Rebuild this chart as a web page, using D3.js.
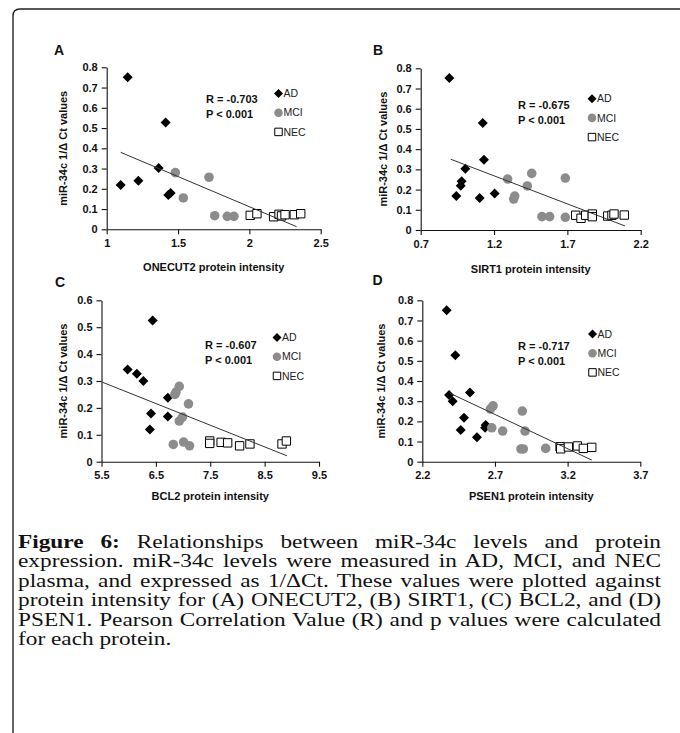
<!DOCTYPE html>
<html>
<head>
<meta charset="utf-8">
<script src="https://cdn.jsdelivr.net/npm/d3@7"></script>
<style>
  body { margin: 0; background: #fff; }
  #wrap { position: relative; width: 680px; height: 733px; overflow: hidden; }
  svg { position: absolute; left: 0; top: 0; }
  #capbox { position: absolute; left: 18px; top: 533px; transform-origin: 0 0; }
  .cap { font-family: "Liberation Serif", serif; font-size: 18px; line-height: 19.4px;
         white-space: nowrap; color: #111; }
  .cap.just { text-align: justify; text-align-last: justify; white-space: normal; }
  .cap b { font-weight: bold; }
</style>
</head>
<body>
<div id="wrap"></div>
<script>
// data: [protein intensity, miR-34c 1/dCt]
const panelA_AD = [[1.147,0.751],[1.413,0.527],[1.364,0.303],[1.098,0.219],[1.222,0.240],[1.432,0.169],[1.448,0.179]];
const panelA_MCI = [[1.481,0.280],[1.537,0.155],[1.717,0.257],[1.757,0.067],[1.845,0.064],[1.892,0.064]];
const panelA_NEC = [[2.006,0.069],[2.053,0.077],[2.170,0.062],[2.208,0.074],[2.225,0.066],[2.25,0.072],[2.315,0.072],[2.36,0.077]];
const panelA_trend = [[1.098,0.380],[2.331,0.013]];

const panelB_AD = [[0.895,0.752],[1.123,0.529],[1.131,0.348],[1.004,0.303],[0.979,0.241],[0.973,0.219],[0.943,0.168],[1.102,0.158],[1.204,0.180]];
const panelB_MCI = [[1.293,0.252],[1.457,0.280],[1.427,0.218],[1.341,0.168],[1.334,0.153],[1.686,0.257],[1.527,0.066],[1.579,0.066],[1.686,0.063]];
const panelB_NEC = [[1.757,0.073],[1.793,0.058],[1.825,0.073],[1.870,0.079],[1.870,0.066],[1.975,0.069],[2.004,0.073],[2.018,0.079],[2.088,0.074]];
const panelB_trend = [[0.905,0.350],[2.093,0.020]];

const panelC_AD = [[6.44,0.525],[5.98,0.343],[6.15,0.327],[6.27,0.300],[6.72,0.238],[6.41,0.179],[6.72,0.168],[6.39,0.120]];
const panelC_MCI = [[6.93,0.280],[6.87,0.259],[6.85,0.250],[7.10,0.215],[6.99,0.166],[6.93,0.151],[6.82,0.064],[7.01,0.073],[7.12,0.059]];
const panelC_NEC = [[7.49,0.077],[7.49,0.068],[7.70,0.072],[7.82,0.070],[8.04,0.059],[8.23,0.066],[8.82,0.066],[8.90,0.077]];
const panelC_trend = [[5.51,0.296],[8.91,0.022]];

const panelD_AD = [[2.368,0.751],[2.427,0.528],[2.384,0.330],[2.409,0.300],[2.528,0.343],[2.487,0.218],[2.464,0.157],[2.576,0.121],[2.636,0.182],[2.632,0.168]];
const panelD_MCI = [[2.687,0.277],[2.668,0.261],[2.678,0.168],[2.753,0.152],[2.888,0.251],[2.907,0.152],[2.879,0.063],[2.895,0.063],[3.049,0.066]];
const panelD_NEC = [[3.148,0.074],[3.152,0.064],[3.205,0.073],[3.267,0.078],[3.308,0.066],[3.366,0.071]];
const panelD_trend = [[2.391,0.339],[3.366,0.008]];

const groups = ["AD", "MCI", "NEC"];
const xTicksA = [1, 1.5, 2, 2.5];
const xTicksB = [0.7, 1.2, 1.7, 2.2];
const xTicksC = [5.5, 6.5, 7.5, 8.5, 9.5];
const xTicksD = [2.2, 2.7, 3.2, 3.7];
const yTicks8 = [0, 0.1, 0.2, 0.3, 0.4, 0.5, 0.6, 0.7, 0.8];
const yTicks6 = [0, 0.1, 0.2, 0.3, 0.4, 0.5, 0.6];
const xTitles = ["ONECUT2 protein intensity", "SIRT1 protein intensity", "BCL2 protein intensity", "PSEN1 protein intensity"];
const rValues = ["R = -0.703", "R = -0.675", "R = -0.607", "R = -0.717"];
const pValues = ["P < 0.001", "P < 0.001", "P < 0.001", "P < 0.001"];
const yTitle = "miR-34c 1/\u0394 Ct values";

const captionLines = [
  "Relationships between miR-34c levels and protein",
  "expression. miR-34c levels were measured in AD, MCI, and NEC",
  "plasma, and expressed as 1/\u0394Ct. These values were plotted against",
  "protein intensity for (A) ONECUT2, (B) SIRT1, (C) BCL2, and (D)",
  "PSEN1. Pearson Correlation Value (R) and p values were calculated",
  "for each protein."
];

// layout of each panel (pixels)
const panels = [
  { letter: "A", ad: panelA_AD, mci: panelA_MCI, nec: panelA_NEC, trend: panelA_trend, xTicks: xTicksA, yTicks: yTicks8,
    x0: 106.7, x1: 320.7, y0: 229.3, y1: 67.3, letterPos: [59, 50], yTitleX: 63, xTitleY: 267,
    rPos: [206, 99.5], legPos: [278.5, 93.5] },
  { letter: "B", ad: panelB_AD, mci: panelB_MCI, nec: panelB_NEC, trend: panelB_trend, xTicks: xTicksB, yTicks: yTicks8,
    x0: 420.7, x1: 640.7, y0: 230, y1: 68.3, letterPos: [378, 50], yTitleX: 383, xTitleY: 269,
    rPos: [518, 105.5], legPos: [592, 98.7] },
  { letter: "C", ad: panelC_AD, mci: panelC_MCI, nec: panelC_NEC, trend: panelC_trend, xTicks: xTicksC, yTicks: yTicks6,
    x0: 101.5, x1: 319, y0: 461.7, y1: 300.3, letterPos: [60, 282.5], yTitleX: 63, xTitleY: 496.5,
    rPos: [205, 345.5], legPos: [277, 337.5] },
  { letter: "D", ad: panelD_AD, mci: panelD_MCI, nec: panelD_NEC, trend: panelD_trend, xTicks: xTicksD, yTicks: yTicks8,
    x0: 422.3, x1: 640.3, y0: 461.7, y1: 300.3, letterPos: [377.5, 280], yTitleX: 381.5, xTitleY: 496.5,
    rPos: [518, 346.5], legPos: [592.5, 334] }
];

const wrap = d3.select("#wrap");
const svg = wrap.append("svg").attr("width", 680).attr("height", 733);

// outer frame (only top and left edges are visible)
svg.append("path")
  .attr("d", "M13,740 L13,16 Q13,9 20,9 L690,9")
  .attr("fill", "none").attr("stroke", "#222").attr("stroke-width", 1.4);

const sans = "'Liberation Sans', Arial, sans-serif";
const grey = "#8c8c8c";
const diamond = d3.symbol().type(d3.symbolSquare).size(50);
const circle = d3.symbol().type(d3.symbolCircle).size(72);
const square = d3.symbol().type(d3.symbolSquare).size(70);

function marker(g, type, x, y, scale) {
  const s = scale || 1;
  if (type === "AD") {
    g.append("path").attr("d", diamond.size(50 * s)())
      .attr("transform", `translate(${x},${y}) rotate(45)`).attr("fill", "#000");
  } else if (type === "MCI") {
    g.append("path").attr("d", circle.size(72 * s)())
      .attr("transform", `translate(${x},${y})`).attr("fill", grey);
  } else {
    g.append("path").attr("d", square.size(70 * s)())
      .attr("transform", `translate(${x},${y})`).attr("fill", "#fff")
      .attr("stroke", "#000").attr("stroke-width", 1);
  }
}

panels.forEach((p, i) => {
  const g = svg.append("g");
  const xDom = d3.extent(p.xTicks), yDom = d3.extent(p.yTicks);
  const x = d3.scaleLinear().domain(xDom).range([p.x0, p.x1]);
  const y = d3.scaleLinear().domain(yDom).range([p.y0, p.y1]);

  const xAxis = g.append("g").attr("transform", `translate(0,${p.y0})`)
    .call(d3.axisBottom(x).tickValues(p.xTicks).tickSize(5).tickSizeOuter(0).tickFormat(d3.format("")));
  const yAxis = g.append("g").attr("transform", `translate(${p.x0},0)`)
    .call(d3.axisLeft(y).tickValues(p.yTicks).tickSize(5).tickSizeOuter(0).tickFormat(d3.format("")));
  [xAxis, yAxis].forEach(a => {
    a.select(".domain").attr("stroke", "#111").attr("stroke-width", 1.1);
    a.selectAll(".tick line").attr("stroke", "#111").attr("stroke-width", 1.1);
    a.selectAll("text").attr("font-family", sans).attr("font-size", 11)
      .attr("font-weight", "bold").attr("fill", "#111");
  });
  xAxis.selectAll("text").attr("dy", "0.71em").attr("y", 10);
  yAxis.selectAll("text").attr("x", -9);

  // points
  const pts = g.append("g");
  p.ad.forEach(d => marker(pts, "AD", x(d[0]), y(d[1])));
  p.mci.forEach(d => marker(pts, "MCI", x(d[0]), y(d[1])));
  p.nec.forEach(d => marker(pts, "NEC", x(d[0]), y(d[1])));

  // linear trendline
  g.append("path").datum(p.trend)
    .attr("d", d3.line().x(d => x(d[0])).y(d => y(d[1])))
    .attr("stroke", "#333").attr("stroke-width", 1).attr("fill", "none");

  // titles
  g.append("text").attr("x", p.letterPos[0]).attr("y", p.letterPos[1]).attr("dy", "0.35em")
    .attr("text-anchor", "middle").attr("font-family", sans).attr("font-weight", "bold")
    .attr("font-size", 14).attr("fill", "#111").text(p.letter);
  g.append("text").attr("transform", `translate(${p.yTitleX},${(p.y0 + p.y1) / 2}) rotate(-90)`)
    .attr("dy", "0.35em").attr("text-anchor", "middle").attr("font-family", sans)
    .attr("font-weight", "bold").attr("font-size", 11).attr("fill", "#111").text(yTitle);
  g.append("text").attr("x", (p.x0 + p.x1) / 2).attr("y", p.xTitleY).attr("dy", "0.35em")
    .attr("text-anchor", "middle").attr("font-family", sans).attr("font-weight", "bold")
    .attr("font-size", 11).attr("fill", "#111").text(xTitles[i]);

  // R and P
  [rValues[i], pValues[i]].forEach((t, k) => {
    g.append("text").attr("x", p.rPos[0]).attr("y", p.rPos[1] + k * 14.5).attr("dy", "0.35em")
      .attr("font-family", sans).attr("font-weight", "bold").attr("font-size", 11)
      .attr("fill", "#111").text(t);
  });

  // legend
  groups.forEach((grp, k) => {
    const ly = p.legPos[1] + k * 19.2;
    marker(g, grp, p.legPos[0], ly, 0.8);
    g.append("text").attr("x", p.legPos[0] + 5).attr("y", ly).attr("dy", "0.35em")
      .attr("font-family", sans).attr("font-size", 10.5).attr("fill", "#222").text(grp);
  });
});

// caption: scale the serif text horizontally so the widest line fills the box
const capWidth = 643;
const ctx = document.createElement("canvas").getContext("2d");
ctx.font = "18px 'Liberation Serif'";
const natural = d3.max(captionLines.slice(1, 5), l => ctx.measureText(l).width);
const sx = capWidth / (natural + 6);
const box = wrap.append("div").attr("id", "capbox")
  .style("width", (capWidth / sx) + "px").style("transform", `scaleX(${sx})`);
captionLines.forEach((line, i) => {
  const div = box.append("div").attr("class", "cap" + (i < captionLines.length - 1 ? " just" : ""));
  if (i === 0) {
    div.append("b").text("Figure 6:");
    div.append("span").text(" " + line);
  } else {
    div.text(line);
  }
});
</script>
</body>
</html>
